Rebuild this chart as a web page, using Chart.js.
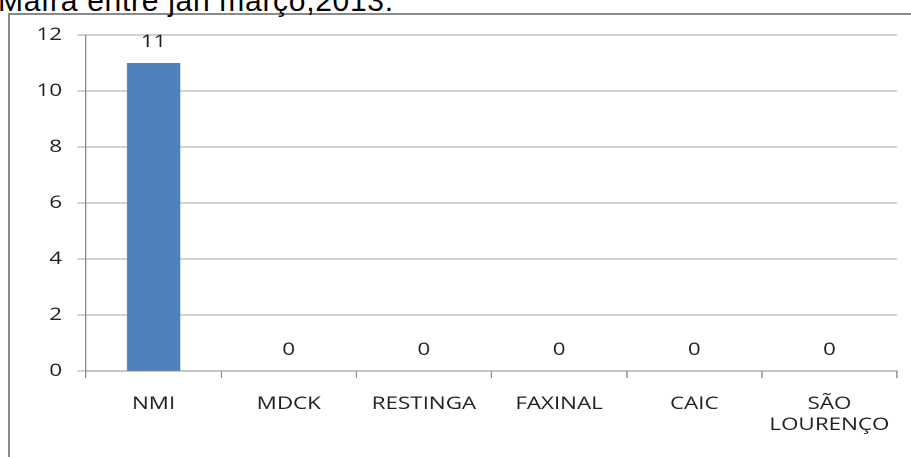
<!DOCTYPE html>
<html>
<head>
<meta charset="utf-8">
<script src="https://cdn.jsdelivr.net/npm/chart.js@4/dist/chart.umd.min.js"></script>
<style>
  html, body { margin: 0; padding: 0; width: 911px; height: 457px; overflow: hidden; background: #fff; }
  #caption {
    position: absolute; left: -2px; top: -14px;
    font: 30px "Liberation Sans", Arial, sans-serif; line-height: 30px;
    letter-spacing: 0.7px;
    color: #000; white-space: nowrap;
  }
  #frame {
    position: absolute; left: 8px; top: 13px; width: 1000px; height: 1000px;
    border: 2px solid #8a8a8a;
  }
  #wrap {
    position: absolute; left: 0; top: 0; width: 712px; height: 457px;
    transform: scaleX(1.2795); transform-origin: 0 0;
  }
</style>
</head>
<body>
<div id="frame"></div>
<div id="caption">Mafra entre jan março,2013.</div>
<div id="wrap"><canvas id="c"></canvas></div>
<script>
// Casos por unidade
const categories = ['NMI', 'MDCK', 'RESTINGA', 'FAXINAL', 'CAIC', ['SÃO', 'LOURENÇO']];
const casos = [11, 0, 0, 0, 0, 0];
const yMin = 0, yMax = 12, yStep = 2;

const FONT = { family: "'Open Sans', sans-serif", size: 17.5 };
const TEXT = '#1f1f1f';

// value printed above each bar
const valueLabels = {
  id: 'valueLabels',
  afterDatasetsDraw(chart) {
    const ctx = chart.ctx;
    ctx.save();
    ctx.font = `${FONT.size}px ${FONT.family}`;
    ctx.fillStyle = TEXT;
    ctx.textAlign = 'center';
    ctx.textBaseline = 'middle';
    chart.getDatasetMeta(0).data.forEach((bar, i) => {
      ctx.fillText(String(casos[i]), bar.x, bar.y - 21);
    });
    ctx.restore();
  }
};

new Chart(document.getElementById('c'), {
  type: 'bar',
  data: {
    labels: categories,
    datasets: [{
      data: casos,
      backgroundColor: '#4f81bd',
      borderWidth: 0,
      barPercentage: 0.395,
      categoryPercentage: 1
    }]
  },
  options: {
    responsive: true,
    maintainAspectRatio: false,
    devicePixelRatio: 2,
    animation: false,
    layout: { padding: { top: 35, right: 10.95, bottom: 0, left: 0 } },
    plugins: { legend: { display: false }, tooltip: { enabled: false }, title: { display: false } },
    scales: {
      x: {
        grid: { drawOnChartArea: false, drawTicks: true, tickLength: 7, color: '#8c8c8c' },
        border: { display: true, color: '#8c8c8c' },
        ticks: { font: { ...FONT, lineHeight: 1.2 }, color: TEXT, padding: 15.5, maxRotation: 0, autoSkip: false },
        afterFit(scale) { scale.height = 86; }
      },
      y: {
        min: yMin, max: yMax,
        grid: { color: '#a6a6a6', tickLength: 7, drawTicks: true },
        border: { display: true, color: '#8c8c8c' },
        ticks: { stepSize: yStep, font: FONT, color: TEXT, padding: 11.75 },
        afterFit(scale) { scale.width = 67.21; }
      }
    }
  },
  plugins: [valueLabels]
});
</script>
</body>
</html>
